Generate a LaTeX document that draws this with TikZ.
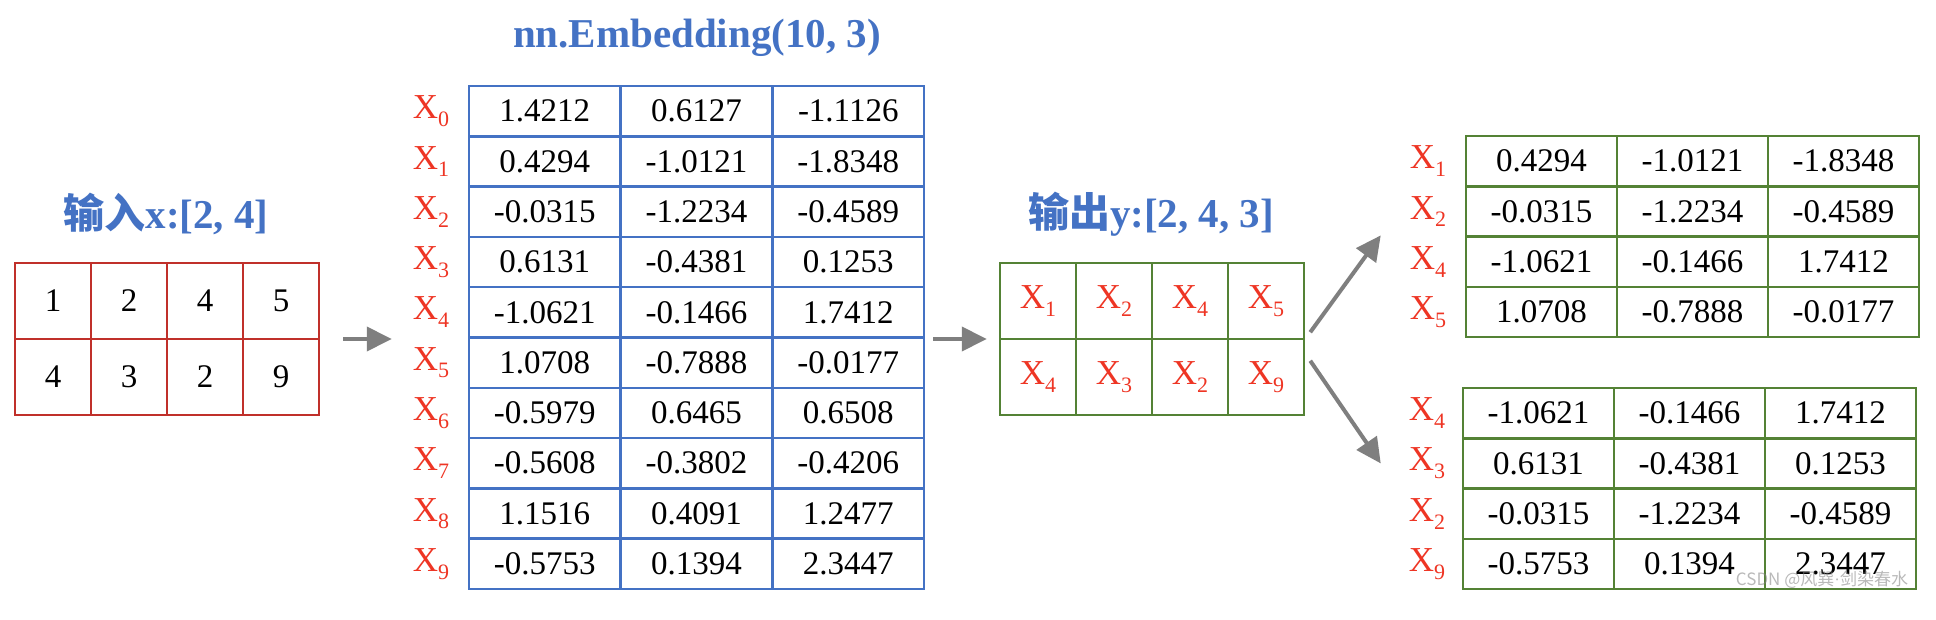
\documentclass[tikz,border=0pt]{standalone}
\usepackage{fontspec}
\setmainfont{Liberation Serif}
\newfontfamily\cjkfont{Noto Sans CJK SC}
\usetikzlibrary{arrows.meta}
\definecolor{tblue}{HTML}{4472C4}
\definecolor{tred}{HTML}{C0302A}
\definecolor{xred}{HTML}{EE3524}
\definecolor{tgreen}{HTML}{548235}
\definecolor{agray}{HTML}{7F7F7F}
\newcommand\Xs[1]{X\raisebox{-0.22em}{\fontsize{22}{22}\selectfont #1}}
\tikzset{
  numtxt/.style={font=\fontsize{33}{40}\selectfont},
  incell/.style={draw=tred, line width=2.5pt, minimum width=76pt, minimum height=76pt, inner sep=0pt, numtxt},
  embcell/.style={draw=tblue, line width=2.5pt, minimum width=151.7pt, minimum height=50.3pt, inner sep=0pt, numtxt},
  grcell/.style={draw=tgreen, line width=2.5pt, minimum width=151pt, minimum height=50.3pt, inner sep=0pt, numtxt},
  outcell/.style={draw=tgreen, line width=2.5pt, minimum width=76pt, minimum height=76pt, inner sep=0pt, text=xred, font=\fontsize{35}{40}\selectfont},
  xlab/.style={text=xred, inner sep=0pt, font=\fontsize{35}{40}\selectfont},
  ttl/.style={text=tblue, inner sep=0pt, font=\bfseries\fontsize{41}{48}\selectfont},
  arr/.style={draw=agray, line width=4pt, -{Triangle[length=25pt,width=24pt]}},
  wmark/.style={text=gray, opacity=0.55, inner sep=0pt, font=\cjkfont\fontsize{17}{20}\selectfont}
}
\begin{document}
\begin{tikzpicture}[x=1pt,y=-1pt]
\useasboundingbox (0,0) rectangle (1936,620);
% titles
\node[ttl] (tin) at (166,214) {{\cjkfont\bfseries 输入}x:[2, 4]};
\node[ttl] (temb) at (697,38) {nn.Embedding(10, 3)};
\node[ttl] (tout) at (1151,214) {{\cjkfont\bfseries 输出}y:[2, 4, 3]};
% input table
\foreach \row [count=\r from 0] in {{1,2,4,5},{4,3,2,9}}{
  \foreach \v [count=\c from 0] in \row {
    \node[incell] (i\r-\c) at ({53+\c*76},{301+\r*76}) {\v};
  }
}
% embedding table
\foreach \row [count=\r from 0] in {
  {1.4212,0.6127,-1.1126},
  {0.4294,-1.0121,-1.8348},
  {-0.0315,-1.2234,-0.4589},
  {0.6131,-0.4381,0.1253},
  {-1.0621,-0.1466,1.7412},
  {1.0708,-0.7888,-0.0177},
  {-0.5979,0.6465,0.6508},
  {-0.5608,-0.3802,-0.4206},
  {1.1516,0.4091,1.2477},
  {-0.5753,0.1394,2.3447}}{
  \node[xlab] (ex\r) at (431,{111.15+\r*50.3}) {\Xs{\r}};
  \foreach \v [count=\c from 0] in \row {
    \node[embcell] (e\r-\c) at ({544.85+\c*151.7},{111.15+\r*50.3}) {\v};
  }
}
% output table
\foreach \row [count=\r from 0] in {{1,2,4,5},{4,3,2,9}}{
  \foreach \v [count=\c from 0] in \row {
    \node[outcell] (o\r-\c) at ({1038+\c*76},{301+\r*76}) {\Xs{\v}};
  }
}
% upper right table
\foreach \lab/\row [count=\r from 0] in {
  1/{0.4294,-1.0121,-1.8348},
  2/{-0.0315,-1.2234,-0.4589},
  4/{-1.0621,-0.1466,1.7412},
  5/{1.0708,-0.7888,-0.0177}}{
  \node[xlab] (ux\r) at (1428,{161.15+\r*50.3}) {\Xs{\lab}};
  \foreach \v [count=\c from 0] in \row {
    \node[grcell] (u\r-\c) at ({1541.5+\c*151},{161.15+\r*50.3}) {\v};
  }
}
% lower right table
\foreach \lab/\row [count=\r from 0] in {
  4/{-1.0621,-0.1466,1.7412},
  3/{0.6131,-0.4381,0.1253},
  2/{-0.0315,-1.2234,-0.4589},
  9/{-0.5753,0.1394,2.3447}}{
  \node[xlab] (lx\r) at (1427,{413.15+\r*50.3}) {\Xs{\lab}};
  \foreach \v [count=\c from 0] in \row {
    \node[grcell] (l\r-\c) at ({1538.5+\c*151},{413.15+\r*50.3}) {\v};
  }
}
% arrows
\coordinate (mid) at (0,339);
\draw[arr] ([xshift=23pt]i0-3.south east |- mid) -- ([xshift=-76pt]e5-0.west |- mid);
\draw[arr] ([xshift=8pt]e5-2.east |- mid) -- ([xshift=-12pt]o0-0.west |- mid);
\draw[arr] ([shift={(5pt,8pt)}]o0-3.south east) -- ([xshift=-84pt]u2-0.north west);
\draw[arr] ([shift={(5pt,-23pt)}]o1-3.north east) -- ([xshift=-81pt]l1-0.west);
% watermark
\node[wmark] (wm) at (1822,580) {CSDN @风巽{\rmfamily ·}剑染春水};
\end{tikzpicture}
\end{document}
